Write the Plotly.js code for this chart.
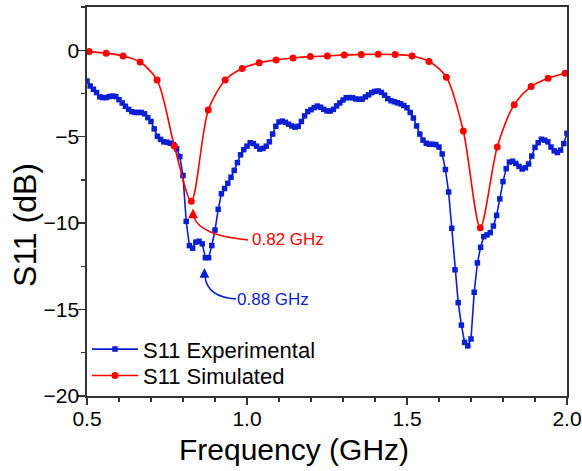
<!DOCTYPE html>
<html>
<head>
<meta charset="utf-8">
<script src="https://cdn.plot.ly/plotly-3.0.1.min.js"></script>
<style>html,body{margin:0;padding:0;background:#fff;}#chart{width:582px;height:471px;}</style>
</head>
<body>
<div id="chart"></div>
<script>
// Experimental S11 (dB), frequency in GHz
const freqExp = [
0.50,0.51,0.52,0.53,0.54,0.55,0.56,0.57,0.58,0.59,
0.60,0.61,0.62,0.63,0.64,0.65,0.66,0.67,0.68,0.69,
0.70,0.71,0.72,0.73,0.74,0.75,0.76,0.77,0.78,0.79,
0.80,0.81,0.82,0.83,0.84,0.85,0.86,0.87,0.88,0.89,
0.90,0.91,0.92,0.93,0.94,0.95,0.96,0.97,0.98,0.99,
1.00,1.01,1.02,1.03,1.04,1.05,1.06,1.07,1.08,1.09,
1.10,1.11,1.12,1.13,1.14,1.15,1.16,1.17,1.18,1.19,
1.20,1.21,1.22,1.23,1.24,1.25,1.26,1.27,1.28,1.29,
1.30,1.31,1.32,1.33,1.34,1.35,1.36,1.37,1.38,1.39,
1.40,1.41,1.42,1.43,1.44,1.45,1.46,1.47,1.48,1.49,
1.50,1.51,1.52,1.53,1.54,1.55,1.56,1.57,1.58,1.59,
1.60,1.61,1.62,1.63,1.64,1.65,1.66,1.67,1.68,1.69,
1.70,1.71,1.72,1.73,1.74,1.75,1.76,1.77,1.78,1.79,
1.80,1.81,1.82,1.83,1.84,1.85,1.86,1.87,1.88,1.89,
1.90,1.91,1.92,1.93,1.94,1.95,1.96,1.97,1.98,1.99,
2.00];
const s11Exp = [
-1.78,-2.07,-2.26,-2.45,-2.70,-2.74,-2.74,-2.68,-2.65,-2.68,
-2.86,-3.05,-3.24,-3.42,-3.55,-3.60,-3.60,-3.60,-3.68,-3.90,
-4.12,-4.55,-4.98,-5.16,-5.30,-5.32,-5.38,-5.46,-5.70,-6.15,
-7.25,-9.90,-11.30,-11.45,-11.10,-11.05,-11.20,-12.00,-12.00,-11.30,
-10.40,-9.20,-8.30,-8.00,-7.70,-7.35,-6.95,-6.50,-6.05,-5.75,
-5.55,-5.35,-5.40,-5.55,-5.72,-5.68,-5.55,-5.30,-4.85,-4.40,
-4.15,-4.10,-4.17,-4.28,-4.38,-4.45,-4.40,-4.12,-3.80,-3.55,
-3.44,-3.32,-3.23,-3.30,-3.42,-3.51,-3.52,-3.42,-3.22,-3.05,
-2.88,-2.75,-2.74,-2.75,-2.82,-2.84,-2.83,-2.70,-2.58,-2.45,
-2.38,-2.36,-2.44,-2.60,-2.80,-2.92,-2.98,-3.04,-3.10,-3.20,
-3.33,-3.60,-3.92,-4.38,-4.85,-5.20,-5.38,-5.44,-5.44,-5.46,
-5.60,-6.00,-6.90,-8.20,-10.30,-12.70,-14.60,-15.90,-16.90,-17.10,
-16.70,-14.00,-12.30,-11.40,-10.78,-10.68,-10.55,-10.17,-9.55,-8.60,
-7.60,-6.85,-6.47,-6.42,-6.55,-6.72,-6.87,-6.80,-6.58,-6.12,
-5.62,-5.35,-5.15,-5.20,-5.30,-5.60,-5.82,-5.92,-5.78,-5.40,
-4.80];

// Simulated S11 (dB)
const freqSim = [0.507,0.560,0.613,0.666,0.719,0.773,0.826,0.879,0.932,0.985,
1.038,1.091,1.144,1.198,1.251,1.304,1.357,1.410,1.463,1.516,
1.569,1.623,1.676,1.729,1.782,1.835,1.888,1.941,1.994];
const s11Sim = [-0.08,-0.17,-0.33,-0.68,-1.72,-5.54,-8.74,-3.46,-1.72,-1.06,
-0.73,-0.56,-0.45,-0.37,-0.33,-0.27,-0.25,-0.23,-0.25,-0.33,
-0.65,-1.56,-4.67,-10.27,-5.60,-3.15,-2.10,-1.62,-1.33];

const seriesNames = ['S11 Experimental', 'S11 Simulated'];
const xTickVals = [0.5, 1.0, 1.5, 2.0];
const xTickText = ['0.5', '1.0', '1.5', '2.0'];
const yTickVals = [0, -5, -10, -15, -20];
const yTickText = ['0', '\u22125', '\u221210', '\u221215', '\u221220'];

// Resonance callouts: label, arrow tip, curved leader (start, control, end)
const callouts = [
  {text: '0.82 GHz', color: '#ff0000', tip: [0.8313, -9.15], start: [0.833, -9.62], ctrl: [0.853, -10.74], end: [1.003, -10.97], label: [1.008, -10.95]},
  {text: '0.88 GHz', color: '#0a1ed2', tip: [0.867, -12.60], start: [0.8688, -13.08], ctrl: [0.875, -14.27], end: [0.9656, -14.39], label: [0.962, -14.42]}
];

const BLUE = '#0a1ed2';
const RED = '#ff0000';
const FONT = 'Liberation Sans, Arial, Helvetica, sans-serif';

const traces = [
  {x: freqExp, y: s11Exp, name: seriesNames[0], type: 'scatter', mode: 'lines+markers', legend: 'legend',
   line: {color: BLUE, width: 1.6}, marker: {symbol: 'square', size: 5.5, color: BLUE}},
  {x: freqSim, y: s11Sim, name: seriesNames[1], type: 'scatter', mode: 'lines+markers', legend: 'legend2',
   line: {color: RED, width: 1.6, shape: 'spline', smoothing: 0.8}, marker: {symbol: 'circle', size: 7, color: RED}}
];

const shapes = [];
const annotations = [];
callouts.forEach(c => {
  shapes.push({type: 'path', xref: 'x', yref: 'y',
    path: 'M ' + c.start[0] + ',' + c.start[1] + ' Q ' + c.ctrl[0] + ',' + c.ctrl[1] + ' ' + c.end[0] + ',' + c.end[1],
    line: {color: c.color, width: 1.5}});
  annotations.push({x: c.tip[0], y: c.tip[1], xref: 'x', yref: 'y', text: '', showarrow: true,
    arrowhead: 2, arrowsize: 1.3, arrowwidth: 1.5, arrowcolor: c.color, ax: 0, ay: 9, standoff: 0});
  annotations.push({x: c.label[0], y: c.label[1], xref: 'x', yref: 'y', text: c.text, showarrow: false,
    xanchor: 'left', yanchor: 'middle', font: {family: FONT, size: 17, color: c.color}});
});
annotations.push({text: 'Frequency (GHz)', xref: 'paper', yref: 'paper', x: 0.431, y: -0.138,
  xanchor: 'center', yanchor: 'middle', showarrow: false, font: {family: FONT, size: 30, color: '#000'}});
annotations.push({text: 'S11 (dB)', xref: 'paper', yref: 'paper', x: -0.129, y: 0.44,
  xanchor: 'center', yanchor: 'middle', textangle: -90, showarrow: false, font: {family: FONT, size: 32, color: '#000'}});

const axisCommon = {showgrid: false, zeroline: false, showline: true, mirror: true, linecolor: '#333', linewidth: 1.6,
  ticks: 'outside', tickcolor: '#333', tickwidth: 1.3, ticklen: 7, tickfont: {family: FONT, size: 21, color: '#000'}};

const legendCommon = {xanchor: 'left', yanchor: 'middle', bgcolor: 'rgba(0,0,0,0)',
  font: {family: FONT, size: 22, color: '#000'}, itemwidth: 46};

const layout = {
  width: 582, height: 471,
  margin: {l: 87, r: 15, t: 7, b: 75},
  paper_bgcolor: '#fff', plot_bgcolor: '#fff',
  font: {family: FONT, color: '#000'},
  showlegend: true,
  legend: Object.assign({x: 0.0, y: 0.12}, legendCommon),
  legend2: Object.assign({x: 0.0, y: 0.052}, legendCommon),
  xaxis: Object.assign({}, axisCommon, {range: [0.5, 2.0], tickvals: xTickVals, ticktext: xTickText, ticklabelstandoff: -4,
    minor: {tick0: 0.5, dtick: 0.1, ticks: 'outside', ticklen: 4, tickcolor: '#333', tickwidth: 1.3}}),
  yaxis: Object.assign({}, axisCommon, {range: [-20, 2.5], tickvals: yTickVals, ticktext: yTickText, ticklabelstandoff: -5,
    minor: {tick0: 0, dtick: 2.5, ticks: 'outside', ticklen: 4, tickcolor: '#333', tickwidth: 1.3}}),
  shapes: shapes,
  annotations: annotations
};

Plotly.newPlot('chart', traces, layout, {staticPlot: true, displayModeBar: false});
</script>
</body>
</html>
